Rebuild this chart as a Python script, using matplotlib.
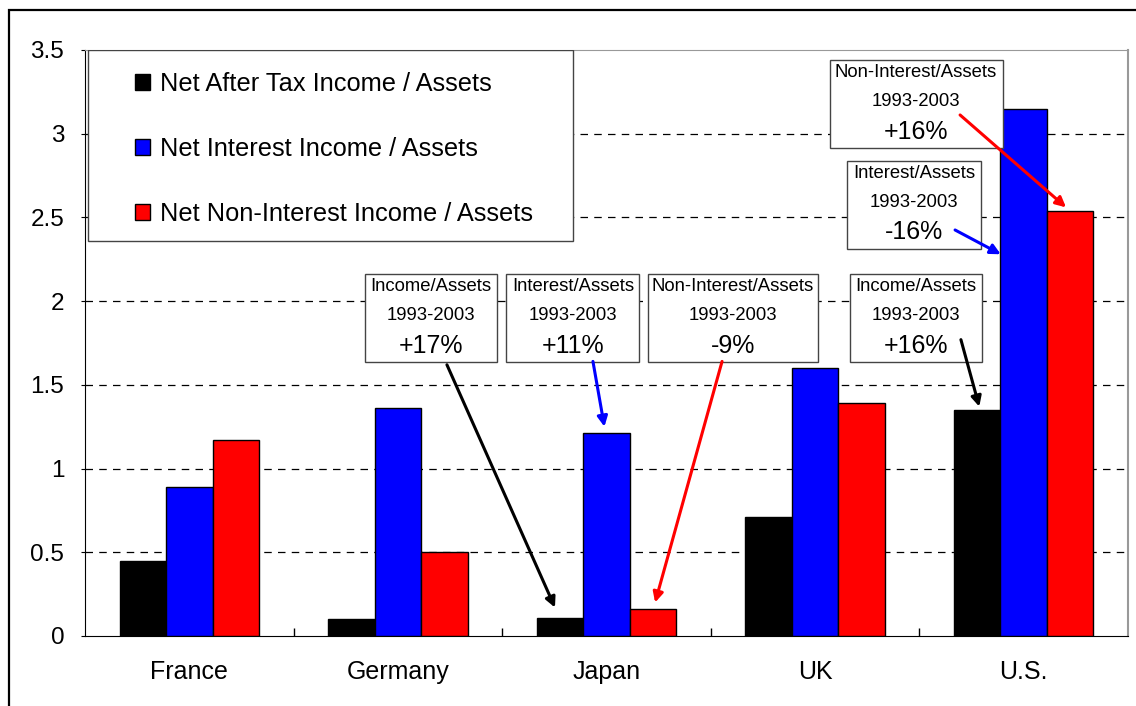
import matplotlib.pyplot as plt
from matplotlib.patches import Rectangle
import numpy as np

plt.rcParams['font.family'] = ['Liberation Sans', 'DejaVu Sans']

countries = ["France", "Germany", "Japan", "UK", "U.S."]
income = [0.45, 0.10, 0.11, 0.71, 1.35]
interest = [0.89, 1.36, 1.21, 1.60, 3.15]
non_interest = [1.17, 0.50, 0.16, 1.39, 2.54]
labels = ["Net After Tax Income / Assets",
          "Net Interest Income / Assets",
          "Net Non-Interest Income / Assets"]

# (title, change, series index, country index, box centre, box width, arrow start, arrow tip offset)
notes = [
    ("Income/Assets", "+17%", 0, 2, (1.159, 1.90), 0.633, (1.235, 1.62), (-0.024, 0.06)),
    ("Interest/Assets", "+11%", 1, 2, (1.839, 1.90), 0.638, (1.935, 1.64), (-0.01, 0.04)),
    ("Non-Interest/Assets", "-9%", 2, 2, (2.606, 1.90), 0.815, (2.554, 1.64), (0.01, 0.04)),
    ("Income/Assets", "+16%", 0, 4, (3.484, 1.90), 0.633, (3.699, 1.77), (0.01, 0.02)),
    ("Interest/Assets", "-16%", 1, 4, (3.474, 2.575), 0.642, (3.671, 2.425), (-0.11, -0.87)),
    ("Non-Interest/Assets", "+16%", 2, 4, (3.484, 3.178), 0.829, (3.695, 3.112), (-0.02, 0.02)),
]

series = [income, interest, non_interest]
colors = ["black", "blue", "red"]
x = np.arange(len(countries))
w = 0.223

fig = plt.figure(figsize=(11.36, 7.06), dpi=100)
ax = fig.add_axes([85 / 1136, 70 / 706, 1043 / 1136, 586 / 706])

for k in range(3):
    ax.bar(x + (k - 1) * w, series[k], w, color=colors[k], edgecolor="black",
           linewidth=1, label=labels[k], zorder=3)

ax.set_xlim(-0.5, len(countries) - 0.5)
ax.set_ylim(0, 3.5)
ax.set_yticks(np.arange(0, 3.51, 0.5))
ax.set_yticklabels(["0", "0.5", "1", "1.5", "2", "2.5", "3", "3.5"])
ax.set_xticks(x)
ax.set_xticklabels(countries)
ax.set_xticks(np.arange(0.5, len(countries) - 0.5, 1), minor=True)
ax.tick_params(axis="x", which="major", length=0, pad=17, labelsize=18)
ax.tick_params(axis="x", which="minor", direction="in", length=6, width=1)
ax.tick_params(axis="y", length=3, pad=12, labelsize=17.5)

for yv in np.arange(0.5, 3.01, 0.5):
    ax.axhline(yv, color="black", linestyle=(0, (6, 5)), linewidth=0.9, zorder=1)

ax.spines["top"].set_color("#999999")
ax.spines["right"].set_color("#999999")
ax.spines["right"].set_linewidth(1.5)

# legend
ax.add_patch(Rectangle((3 / 1043, 395 / 586), 485 / 1043, 191 / 586, transform=ax.transAxes,
                       facecolor="white", edgecolor="#444444", linewidth=1, zorder=4))
leg = ax.legend(loc="upper left", bbox_to_anchor=(50 / 1043, 1 - 22 / 586), frameon=False,
                fontsize=18.3, handlelength=0.6, handleheight=0.6, handletextpad=0.38,
                labelspacing=1.62, borderaxespad=0, borderpad=0)
leg.set_zorder(5)

for title, change, s, c, (cx, cy), bw, start, off in notes:
    bh = 0.526
    ax.add_patch(Rectangle((cx - bw / 2, cy - bh / 2), bw, bh, facecolor="white",
                           edgecolor="#444444", linewidth=1, zorder=4))
    ax.text(cx, cy + 0.185, title, ha="center", va="center", fontsize=13.3, zorder=5)
    ax.text(cx, cy + 0.012, "1993-2003", ha="center", va="center", fontsize=13.3, zorder=5)
    ax.text(cx, cy - 0.165, change, ha="center", va="center", fontsize=18, zorder=5)
    tip = (x[c] + (s - 1) * w + off[0], series[s][c] + off[1])
    ax.annotate("", xy=tip, xytext=start,
                arrowprops=dict(arrowstyle="-|>,head_length=0.6,head_width=0.3",
                                color=colors[s], linewidth=2.2, shrinkA=0, shrinkB=0),
                zorder=6)

# outer frame
fig.add_artist(Rectangle((9 / 1136, -0.1), 1.2, 1.1 - 10 / 706, transform=fig.transFigure,
                         fill=False, edgecolor="black", linewidth=1.6))

fig.savefig("out.png", dpi=100)
